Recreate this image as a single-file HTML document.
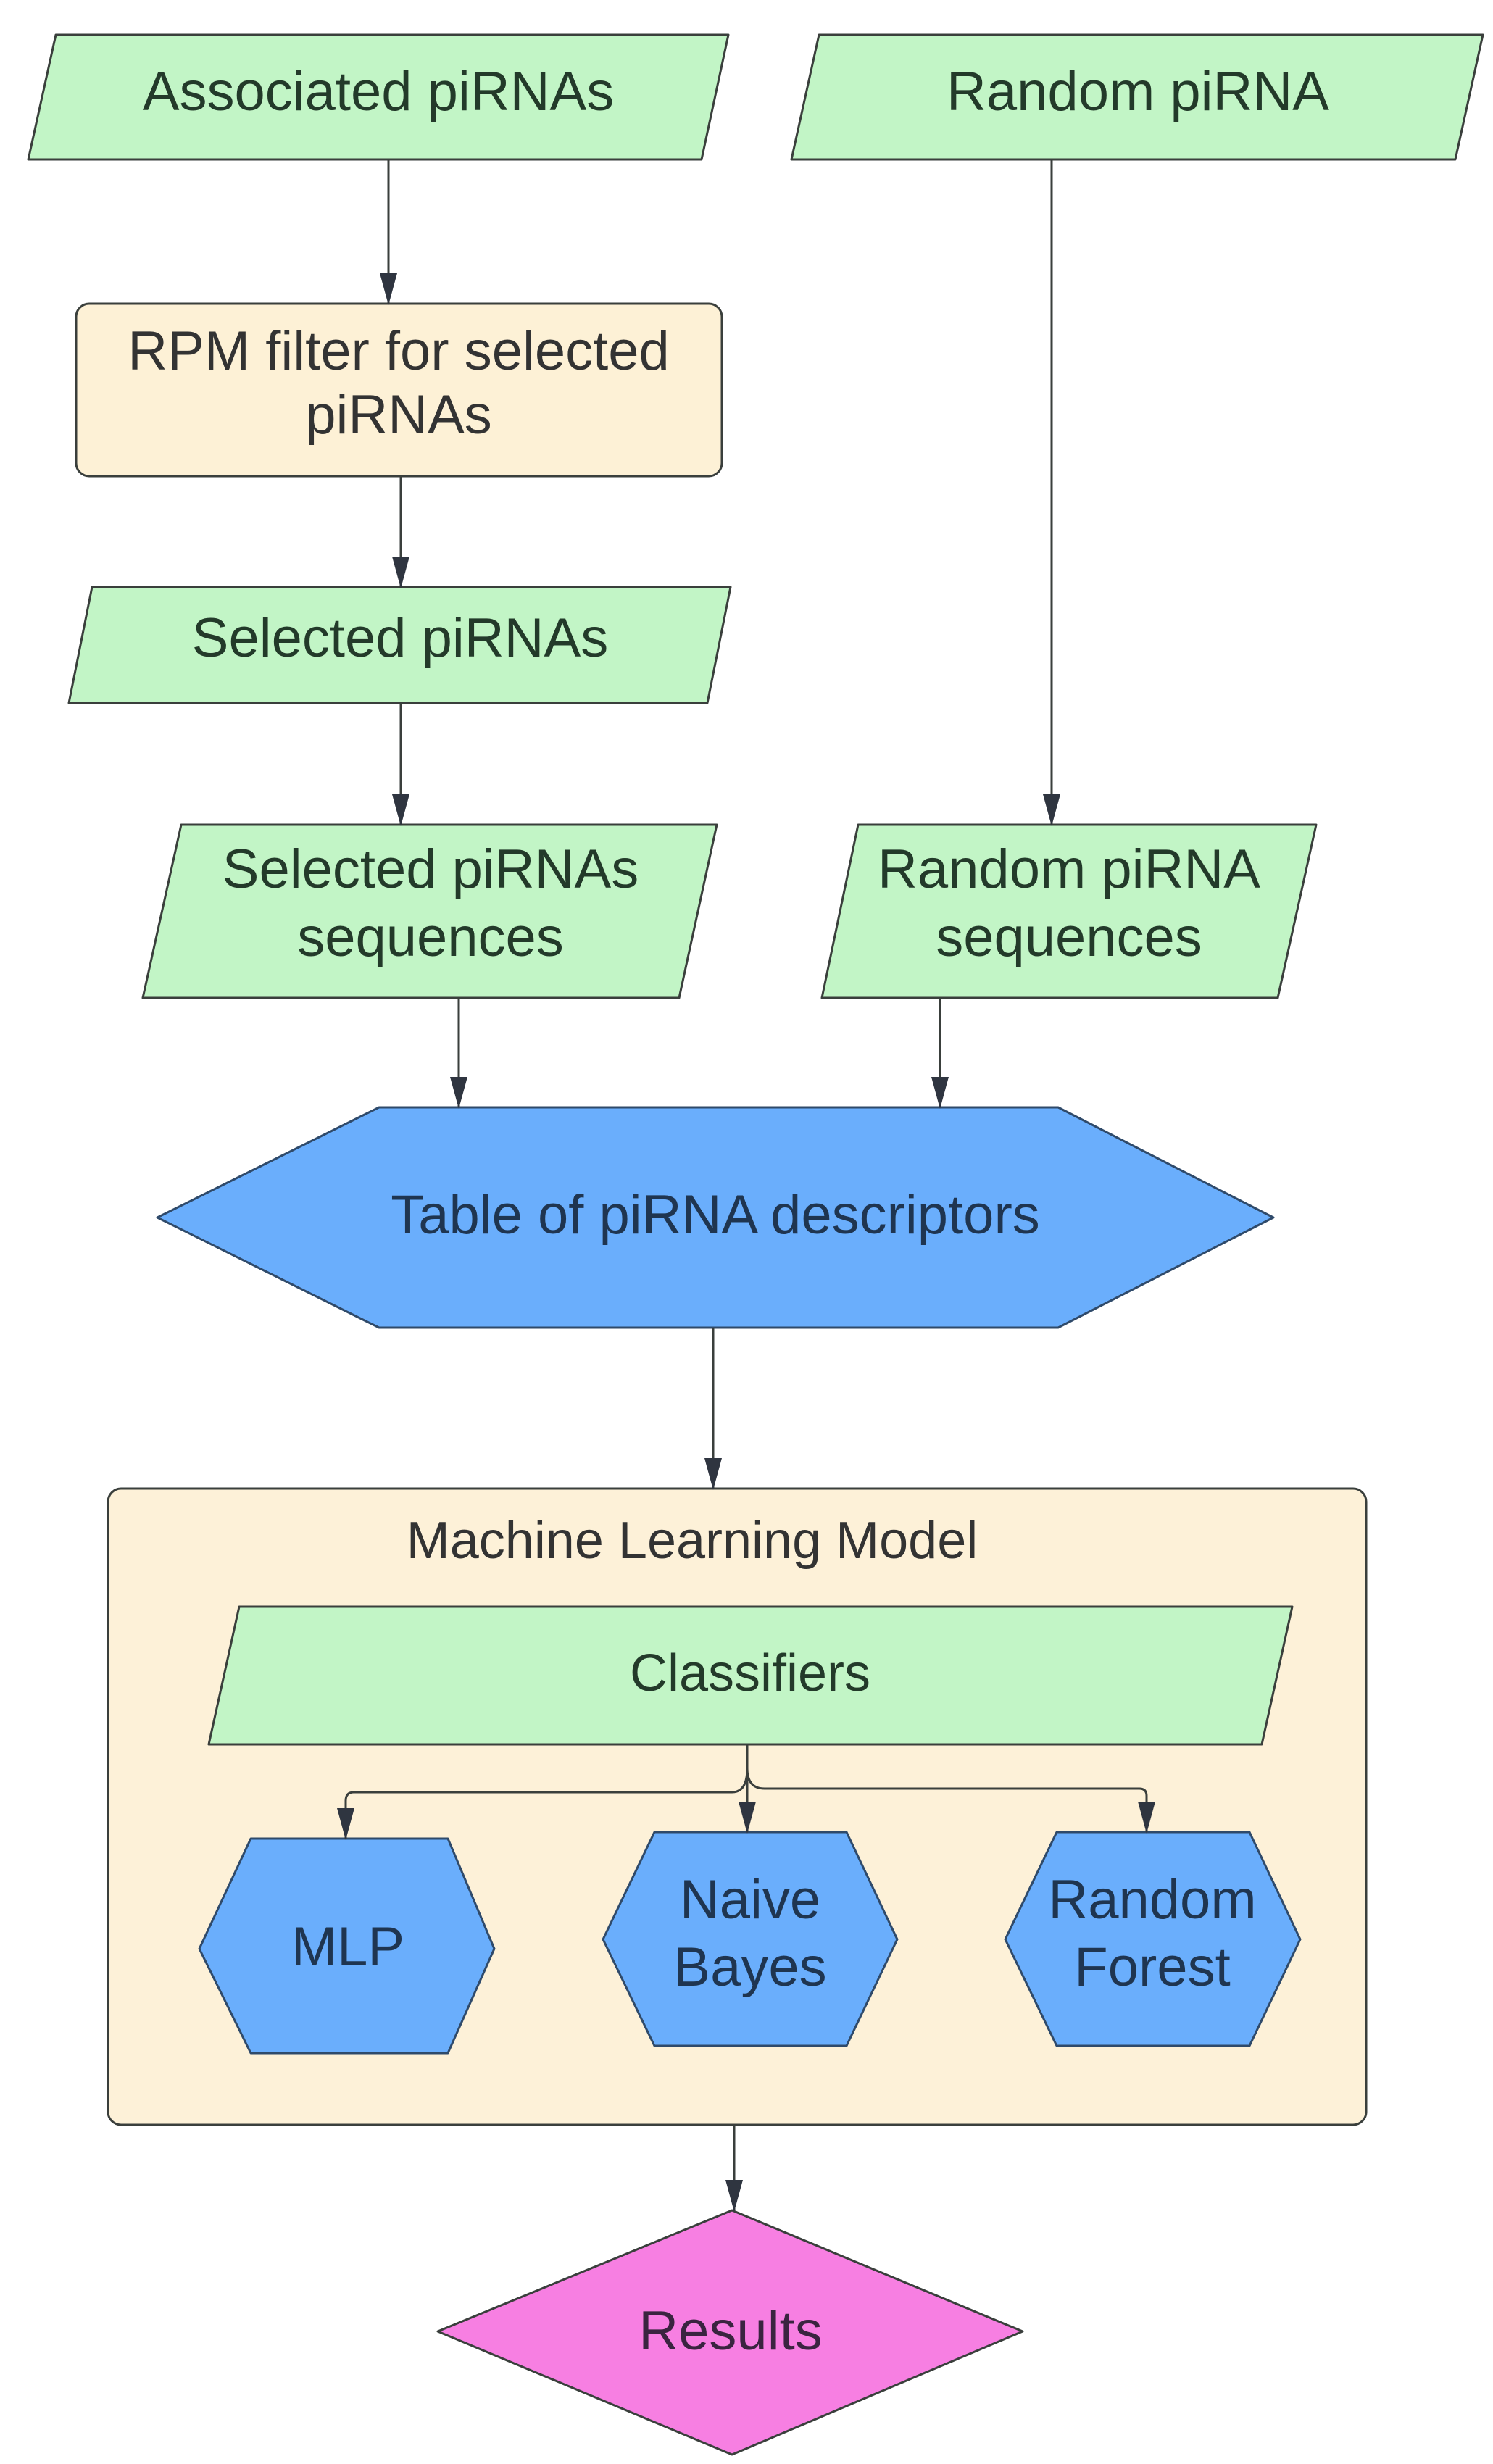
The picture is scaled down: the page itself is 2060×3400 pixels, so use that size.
<!DOCTYPE html>
<html><head><meta charset="utf-8"><style>
html,body{margin:0;padding:0;background:#fff}
svg{display:block}
text{font-family:"Liberation Sans",sans-serif;text-anchor:middle}
</style></head><body>
<svg width="2060" height="3400" viewBox="0 0 2060 3400" xmlns="http://www.w3.org/2000/svg">
<defs>
<marker id="ah" markerWidth="44" markerHeight="24" refX="42" refY="12" orient="auto" markerUnits="userSpaceOnUse" viewBox="0 0 44 24">
<path d="M0,0 L44,12 L0,24 Z" fill="#2f3540"/>
</marker>
</defs>
<g stroke="#3a3f3c" stroke-width="3" stroke-linejoin="round">
<path d="M77,48 L1005,48 L968,220 L39,220 Z" fill="#c2f5c6"/>
<path d="M1130,48 L2046,48 L2008,220 L1092,220 Z" fill="#c2f5c6"/>
<rect x="105" y="419" width="891" height="238" rx="18" fill="#fdf1d6"/>
<path d="M127,810 L1008,810 L976,970 L95,970 Z" fill="#c2f5c6"/>
<path d="M250,1138 L989,1138 L937,1377 L197,1377 Z" fill="#c2f5c6"/>
<path d="M1184,1138 L1816,1138 L1763,1377 L1134,1377 Z" fill="#c2f5c6"/>
<path d="M523,1528 L1460,1528 L1757,1680 L1460,1832 L523,1832 L217,1680 Z" fill="#6aaefc" stroke="#2f4a6a"/>
<rect x="149" y="2054" width="1736" height="878" rx="18" fill="#fdf1d8"/>
<path d="M330,2217 L1783,2217 L1741,2407 L288,2407 Z" fill="#c2f5c6"/>
<path d="M346,2537 L618,2537 L682,2689 L618,2833 L346,2833 L275,2689 Z" fill="#6aaefc" stroke="#2f4a6a"/>
<path d="M903,2528 L1168,2528 L1238,2676 L1168,2823 L903,2823 L832,2676 Z" fill="#6aaefc" stroke="#2f4a6a"/>
<path d="M1458,2528 L1724,2528 L1794,2676 L1724,2823 L1458,2823 L1387,2676 Z" fill="#6aaefc" stroke="#2f4a6a"/>
<path d="M1010,3050 L1411,3217 L1010,3387 L604,3217 Z" fill="#f77fe2"/>
</g>
<g stroke="#3a3f3c" stroke-width="3" fill="none">
<line x1="536" y1="220" x2="536" y2="419" marker-end="url(#ah)"/>
<line x1="553" y1="657" x2="553" y2="810" marker-end="url(#ah)"/>
<line x1="553" y1="970" x2="553" y2="1138" marker-end="url(#ah)"/>
<line x1="1451" y1="220" x2="1451" y2="1138" marker-end="url(#ah)"/>
<line x1="633" y1="1377" x2="633" y2="1528" marker-end="url(#ah)"/>
<line x1="1297" y1="1377" x2="1297" y2="1528" marker-end="url(#ah)"/>
<line x1="984" y1="1832" x2="984" y2="2054" marker-end="url(#ah)"/>
<line x1="1031" y1="2407" x2="1031" y2="2528" marker-end="url(#ah)"/>
<path d="M1031,2440 Q1031,2473 1010,2473 L488,2473 Q477,2473 477,2485 L477,2537" marker-end="url(#ah)"/>
<path d="M1031,2440 Q1031,2468 1055,2468 L1572,2468 Q1582,2468 1582,2478 L1582,2528" marker-end="url(#ah)"/>
<line x1="1013" y1="2932" x2="1013" y2="3050" marker-end="url(#ah)"/>
</g>
<g font-size="76">
<text x="522" y="152" fill="#233a2a">Associated piRNAs</text>
<text x="1570" y="152" fill="#233a2a">Random piRNA</text>
<text x="550" y="510" fill="#333">RPM filter for selected</text>
<text x="550" y="598" fill="#333">piRNAs</text>
<text x="552" y="906" fill="#233a2a">Selected piRNAs</text>
<text x="594" y="1225" fill="#233a2a">Selected piRNAs</text>
<text x="594" y="1319" fill="#233a2a">sequences</text>
<text x="1475" y="1225" fill="#233a2a">Random piRNA</text>
<text x="1475" y="1319" fill="#233a2a">sequences</text>
<text x="987" y="1702" fill="#1f3550">Table of piRNA descriptors</text>
<text x="955" y="2150" fill="#333" font-size="72">Machine Learning Model</text>
<text x="1035" y="2333" fill="#233a2a" font-size="72">Classifiers</text>
<text x="480" y="2712" fill="#1f3550">MLP</text>
<text x="1035" y="2647" fill="#1f3550">Naive</text>
<text x="1035" y="2740" fill="#1f3550">Bayes</text>
<text x="1590" y="2647" fill="#1f3550">Random</text>
<text x="1590" y="2740" fill="#1f3550">Forest</text>
<text x="1008" y="3242" fill="#3a2440">Results</text>
</g>
</svg>
</body></html>
